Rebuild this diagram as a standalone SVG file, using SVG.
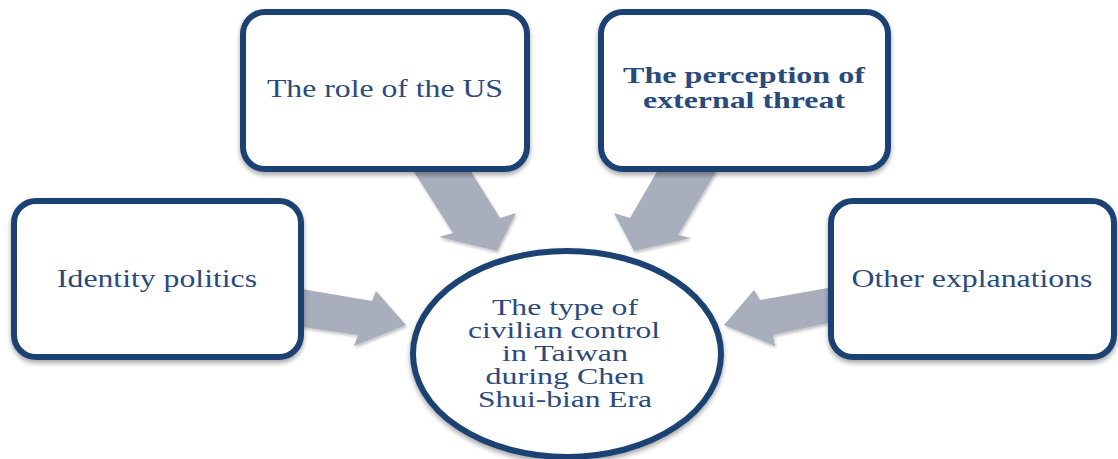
<svg xmlns="http://www.w3.org/2000/svg" width="1118" height="459" viewBox="0 0 1118 459">
<defs>
<filter id="sh" x="-10%" y="-10%" width="120%" height="125%">
<feGaussianBlur in="SourceAlpha" stdDeviation="2.5"/>
<feOffset dx="0" dy="3" result="b"/>
<feComponentTransfer><feFuncA type="linear" slope="0.35"/></feComponentTransfer>
<feMerge><feMergeNode/><feMergeNode in="SourceGraphic"/></feMerge>
</filter>
<filter id="ash" x="-10%" y="-10%" width="120%" height="125%">
<feGaussianBlur in="SourceAlpha" stdDeviation="1.5"/>
<feOffset dx="1" dy="2" result="b"/>
<feComponentTransfer><feFuncA type="linear" slope="0.25"/></feComponentTransfer>
<feMerge><feMergeNode/><feMergeNode in="SourceGraphic"/></feMerge>
</filter>
</defs>
<style>
.box{fill:#ffffff;stroke:#1F4373;stroke-width:6;filter:url(#sh)}
.arr{fill:#A8AEBC;filter:url(#ash)}
.t{font-family:"Liberation Serif","DejaVu Serif",serif;font-size:25px;fill:#2B4A7C;text-anchor:middle}
.c{font-family:"Liberation Serif","DejaVu Serif",serif;font-size:23px;fill:#2B4A7C;text-anchor:middle}
.b{font-family:"Liberation Serif","DejaVu Serif",serif;font-size:24px;font-weight:bold;fill:#2B4A7C;text-anchor:middle}
</style>
<rect width="1118" height="459" fill="#ffffff"/>
<g id="connectors">
<polygon class="arr" points="302,289 372,301 376,291 406,325 354,346 358,335 302,327"/>
<polygon class="arr" points="828,288 760,300 754,290 724,325 775,346 773,335 828,323"/>
<polygon class="arr" points="413,170 470,170 500,218 516,213 497,251 439,237 453,233"/>
<polygon class="arr" points="658,170 717,170 678,235 691,238 634,251 614,213 630,218"/>
</g>
<g id="node-us">
<rect class="box" x="243" y="12" width="284" height="157" rx="22"/>
<text class="t" x="385" y="97" textLength="236" lengthAdjust="spacingAndGlyphs">The role of the US</text>
</g>
<g id="node-threat">
<rect class="box" x="601" y="12" width="287" height="157" rx="22"/>
<text class="b" x="744" y="83" textLength="242" lengthAdjust="spacingAndGlyphs">The perception of</text>
<text class="b" x="744" y="108" textLength="202" lengthAdjust="spacingAndGlyphs">external threat</text>
</g>
<g id="node-identity">
<rect class="box" x="14" y="201" width="287" height="156" rx="22"/>
<text class="t" x="157" y="287" textLength="200" lengthAdjust="spacingAndGlyphs">Identity politics</text>
</g>
<g id="node-other">
<rect class="box" x="831" y="201" width="283" height="156" rx="22"/>
<text class="t" x="972" y="287" textLength="241" lengthAdjust="spacingAndGlyphs">Other explanations</text>
</g>
<g id="node-center">
<ellipse class="box" cx="567" cy="354" rx="154" ry="103"/>
<text class="c" x="565" y="315" textLength="146" lengthAdjust="spacingAndGlyphs">The type of</text>
<text class="c" x="564" y="338" textLength="192" lengthAdjust="spacingAndGlyphs">civilian control</text>
<text class="c" x="565" y="361" textLength="126" lengthAdjust="spacingAndGlyphs">in Taiwan</text>
<text class="c" x="565" y="384" textLength="159" lengthAdjust="spacingAndGlyphs">during Chen</text>
<text class="c" x="565" y="407" textLength="174" lengthAdjust="spacingAndGlyphs">Shui-bian Era</text>
</g>
</svg>
